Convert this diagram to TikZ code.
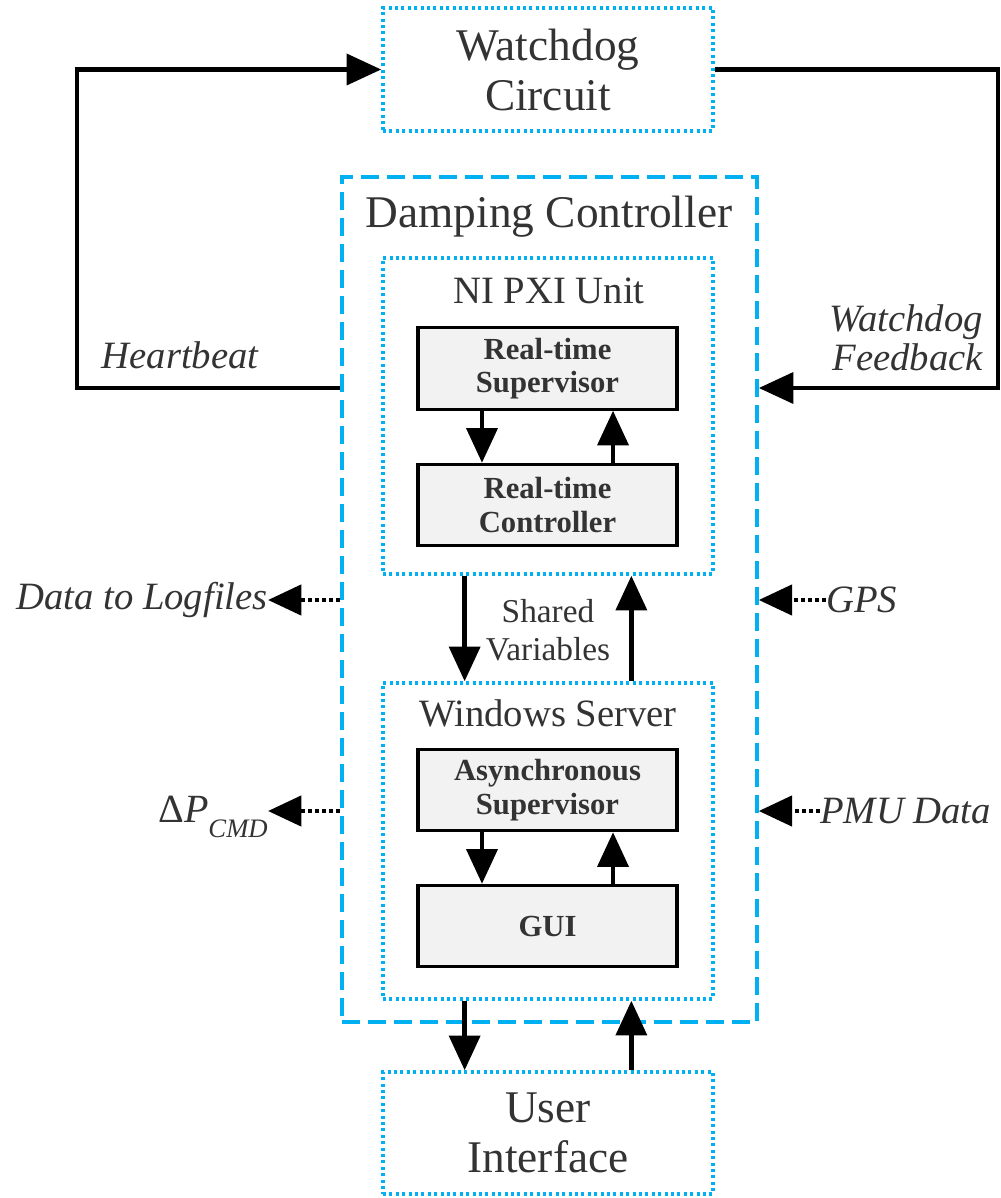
\documentclass[tikz,border=0pt]{standalone}
\usepackage{fontspec}
\setmainfont{Liberation Serif}
\usetikzlibrary{arrows.meta,calc}
\definecolor{frame}{HTML}{00B0F0}
\definecolor{ink}{HTML}{333333}
\definecolor{boxfill}{HTML}{F2F2F2}
\begin{document}
\begin{tikzpicture}[x=0.75pt,y=-0.75pt,
  outerframe/.style={draw=frame, line width=2.6pt, dash pattern=on 13.5pt off 6pt, inner sep=0pt},
  container/.style={draw=frame, line width=2.6pt, dash pattern=on 2.2pt off 2.6pt, inner sep=0pt,
    minimum width=247.5pt, text=ink, align=center, font=\fontsize{34}{37.5}\selectfont},
  block/.style={draw=black, line width=2.3pt, fill=boxfill, inner sep=0pt,
    minimum width=194.25pt, minimum height=61pt, text=ink, align=center,
    font=\fontsize{23}{25}\selectfont\bfseries},
  title/.style={text=ink, inner sep=0pt},
  ilabel/.style={text=ink, inner sep=0pt, align=right, font=\fontsize{29}{29.5}\selectfont\itshape},
  flow/.style={line width=3.6pt, -{Triangle[length=26pt,width=23pt]}},
  signal/.style={line width=3.4pt, dash pattern=on 3pt off 2.3pt, -{Triangle[length=25pt,width=22.5pt]}},
]
\path[use as bounding box] (0,0) rectangle (1000,1198);

% containers
\node[outerframe, minimum width=311.25pt, minimum height=633.75pt] (dc) at (549.5,599.5) {};
\node[container, minimum height=92.25pt] (wd) at (548,69.5) {Watchdog\\Circuit};
\node[container, minimum height=237pt] (ni) at (548,416) {};
\node[container, minimum height=237pt] (ws) at (548,841) {};
\node[container, minimum height=91.5pt] (ui) at (548,1133) {User\\Interface};

% titles
\node[title, font=\fontsize{34}{36}\selectfont] (dctitle) at (549,217) {Damping Controller};
\node[title, font=\fontsize{29}{32}\selectfont] (nititle) at (549,291) {NI PXI Unit};
\node[title, font=\fontsize{29}{32}\selectfont] (wstitle) at (548,713) {Windows Server};
\node[title, align=center, font=\fontsize{25}{28.5}\selectfont] (shared) at (548,630) {Shared\\Variables};

% inner blocks
\node[block] (rts) at (547.5,368.5) {Real-time\\Supervisor};
\node[block] (rtc) at (547.5,505) {Real-time\\Controller};
\node[block] (asv) at (547.5,790) {Asynchronous\\Supervisor};
\node[block] (gui) at (547.5,926) {GUI};

% block-to-block arrows
\coordinate (a1) at ($(rts.south west)!0.25!(rts.south east)$);
\draw[flow] (a1) -- (a1 |- rtc.north);
\coordinate (a2) at ($(rtc.north west)!0.75!(rtc.north east)$);
\draw[flow] (a2) -- (a2 |- rts.south);
\coordinate (b1) at ($(asv.south west)!0.25!(asv.south east)$);
\draw[flow] (b1) -- (b1 |- gui.north);
\coordinate (b2) at ($(gui.north west)!0.75!(gui.north east)$);
\draw[flow] (b2) -- (b2 |- asv.south);

% shared variables
\coordinate (s1) at ($(ni.south west)!0.25!(ni.south east)$);
\draw[flow] (s1) -- (s1 |- ws.north);
\coordinate (s2) at ($(ws.north west)!0.75!(ws.north east)$);
\draw[flow] (s2) -- (s2 |- ni.south);

% user interface links
\coordinate (u1) at ($(ws.south west)!0.25!(ws.south east)$);
\draw[flow] (u1) -- (u1 |- ui.north);
\coordinate (u2) at ($(ui.north west)!0.75!(ui.north east)$);
\draw[flow] (u2) -- (u2 |- ws.south);

% watchdog loop
\coordinate (hb) at (77,388);
\draw[flow] (hb -| dc.west) -- (hb) |- (wd.west);
\coordinate (fb) at (998,388);
\draw[flow] (wd.east) -| (fb) -- (fb -| dc.east);
\node[ilabel] (hbl) at (180,355) {Heartbeat};
\node[ilabel, anchor=east] (fbl) at (983,338) {Watchdog\\Feedback};

% external signals
\node[ilabel, anchor=east] (logs) at (268,600) {Data to Logfiles};
\draw[signal] (logs.east -| dc.west) -- (logs.east);
\coordinate (cmdtip) at (268,811);
\node[text=ink, inner sep=0pt, anchor=east, yshift=-4.5pt] (dp) at (cmdtip)
  {\fontsize{30}{32}\selectfont Δ\textit{P}\raisebox{-0.38em}{\fontsize{20}{22}\selectfont\itshape CMD}};
\draw[signal] (cmdtip -| dc.west) -- (cmdtip);
\node[ilabel, anchor=west] (gps) at (826,600) {GPS};
\draw[signal] (gps.west) -- (gps.west -| dc.east);
\node[ilabel, anchor=west] (pmu) at (820,811) {PMU Data};
\draw[signal] (pmu.west) -- (pmu.west -| dc.east);
\end{tikzpicture}
\end{document}
